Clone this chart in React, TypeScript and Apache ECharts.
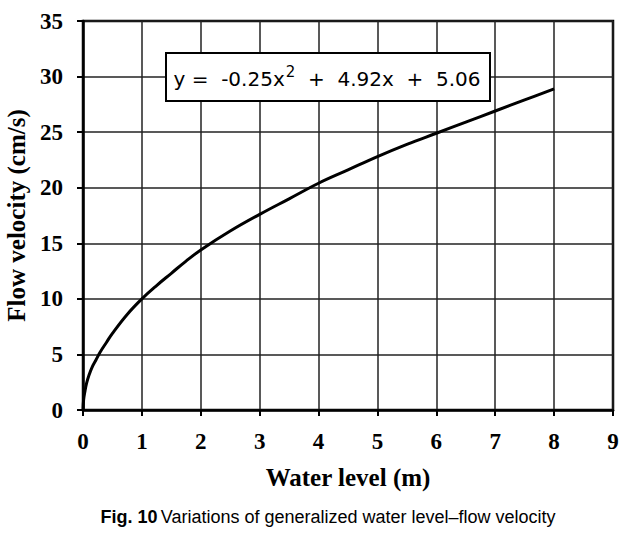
import React, { useEffect, useRef } from "react";
import * as echarts from "echarts";

const waterLevel = [0, 0.01, 0.03, 0.06, 0.1, 0.15, 0.22, 0.29, 0.4, 0.5, 0.75, 1, 1.25, 1.5, 1.75, 2, 2.5, 3, 3.5, 4, 4.5, 5, 5.5, 6, 6.5, 7, 7.5, 8];
const flowVelocity = [0, 0.9, 1.6, 2.4, 3.1, 3.8, 4.5, 5.2, 6.1, 6.9, 8.6, 10, 11.2, 12.3, 13.4, 14.4, 16.1, 17.6, 19, 20.4, 21.6, 22.8, 23.9, 24.9, 25.9, 26.9, 27.9, 28.9];
const xTicks = [0, 1, 2, 3, 4, 5, 6, 7, 8, 9];
const yTicks = [0, 5, 10, 15, 20, 25, 30, 35];

const serif = "'Liberation Serif', 'Times New Roman', serif";
const sans = "'DejaVu Sans', Verdana, sans-serif";
const capFont = "'Liberation Sans', Arial, sans-serif";

export default function App() {
  const ref = useRef<HTMLDivElement>(null);
  useEffect(() => {
    if (!ref.current) return;
    const chart = echarts.init(ref.current, null, { renderer: "svg" });
    const data = waterLevel.map((x, i) => [x, flowVelocity[i]]);
    chart.setOption({
      animation: false,
      backgroundColor: "#ffffff",
      grid: {
        left: 83, right: 27, top: 21, bottom: 129,
        containLabel: false, outerBoundsMode: "none",
        show: true, borderColor: "#000", borderWidth: 2.5, backgroundColor: "transparent",
      },
      xAxis: {
        type: "value",
        min: xTicks[0],
        max: xTicks[xTicks.length - 1],
        interval: 1,
        name: "Water level (m)",
        nameLocation: "middle",
        nameGap: 55,
        nameTextStyle: { fontFamily: serif, fontWeight: "bold", fontSize: 25, color: "#000" },
        axisLine: { show: true, lineStyle: { color: "#000", width: 2.5 } },
        axisTick: { show: true, length: 6, lineStyle: { color: "#000", width: 2 } },
        axisLabel: { margin: 20, fontFamily: serif, fontWeight: "bold", fontSize: 23, color: "#000" },
        splitLine: { show: true, lineStyle: { color: "#222", width: 1.5 } },
      },
      yAxis: {
        type: "value",
        min: yTicks[0],
        max: yTicks[yTicks.length - 1],
        interval: 5,
        name: "Flow velocity (cm/s)",
        nameLocation: "middle",
        nameGap: 45,
        nameTextStyle: { fontFamily: serif, fontWeight: "bold", fontSize: 25, color: "#000" },
        axisLine: { show: true, lineStyle: { color: "#000", width: 2.5 } },
        axisTick: { show: true, length: 6, lineStyle: { color: "#000", width: 2 } },
        axisLabel: { margin: 20, fontFamily: serif, fontWeight: "bold", fontSize: 23, color: "#000" },
        splitLine: { show: true, lineStyle: { color: "#222", width: 1.5 } },
      },
      series: [
        {
          type: "line",
          data,
          smooth: 0.4,
          showSymbol: false,
          lineStyle: { color: "#000", width: 3 },
          z: 5,
        },
      ],
      graphic: [
        {
          type: "rect",
          shape: { x: 166, y: 53, width: 324, height: 48 },
          style: { fill: "#fff", stroke: "#000", lineWidth: 2 },
          z: 10,
        },
        {
          type: "text",
          x: 327,
          y: 79,
          z: 11,
          style: {
            text: "{n|y =  -0.25x}{s|2}{n|  +  4.92x  +  5.06}",
            align: "center",
            verticalAlign: "middle",
            rich: {
              n: { fontFamily: sans, fontSize: 20, fill: "#000", color: "#000" },
              s: { fontFamily: sans, fontSize: 15, fill: "#000", color: "#000", verticalAlign: "top", padding: [0, 0, 14, 1] },
            },
          },
        },
        {
          type: "text",
          x: 328,
          y: 517,
          style: {
            text: "{b|Fig. 10} {n|Variations of generalized water level–flow velocity}",
            align: "center",
            verticalAlign: "middle",
            rich: {
              b: { fontFamily: capFont, fontSize: 18, fontWeight: "bold", fill: "#000", color: "#000" },
              n: { fontFamily: capFont, fontSize: 18, fill: "#000", color: "#000" },
            },
          },
        },
      ],
    });
    return () => chart.dispose();
  }, []);
  return <div ref={ref} style={{ position: "absolute", left: 0, top: 0, width: 640, height: 539 }} />;
}
